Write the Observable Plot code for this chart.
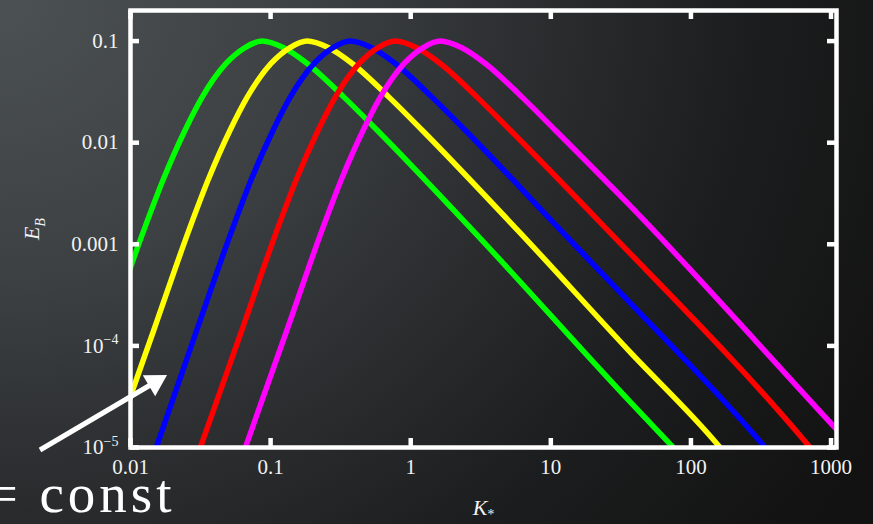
<!DOCTYPE html>
<html><head><meta charset="utf-8">
<script src="https://cdn.jsdelivr.net/npm/d3@7"></script>
<script src="https://cdn.jsdelivr.net/npm/@observablehq/plot@0.6"></script>
<style>
html,body{margin:0;padding:0;width:873px;height:524px;overflow:hidden;}
body{background: radial-gradient(ellipse 1000px 900px at 0% 0%, #4c5154 0%, #3d4144 30%, #2a2c2e 55%, #1c1d1e 75%, #121212 100%);}
#chart{position:relative;width:873px;height:524px;}
#chart svg text{font-family:"Liberation Serif","Times New Roman",serif;}
</style></head><body><div id="chart"></div>
<script>
// ---- data (K_*, E_B) ----
const kGreen   = [0.00702, 0.01248, 0.01707, 0.0245, 0.0324, 0.04809, 0.0657, 0.0870, 0.1229, 0.1823, 0.3350, 0.5764, 2.750, 36.98, 84.1];
const eGreen   = [1.451e-4, 1.387e-3, 4.29e-3, 0.01326, 0.02793, 0.0602, 0.0864, 0.1, 0.0864, 0.0602, 0.02793, 0.01326, 1.387e-3, 2.793e-5, 8.44e-6];
const kYellow  = [0.00841, 0.01472, 0.02617, 0.03578, 0.05136, 0.06795, 0.1008, 0.1378, 0.1823, 0.2575, 0.3821, 0.7022, 1.208, 5.766, 36.98, 149.6, 176.4];
const eYellow  = [1.624e-5, 1.451e-4, 1.387e-3, 4.29e-3, 0.01326, 0.02793, 0.0602, 0.0864, 0.1, 0.0864, 0.0602, 0.02793, 0.01326, 1.387e-3, 8.636e-5, 1.132e-5, 8.64e-6];
const kBlue    = [0.01472, 0.02985, 0.05309, 0.07254, 0.1042, 0.1378, 0.2045, 0.2795, 0.3698, 0.5223, 0.7751, 1.424, 2.451, 11.69, 31.35, 313.5, 369.8];
const eBlue    = [8.64e-6, 1.451e-4, 1.387e-3, 4.29e-3, 0.01326, 0.02793, 0.0602, 0.0864, 0.1, 0.0864, 0.0602, 0.02793, 0.01326, 1.387e-3, 3.346e-4, 1.132e-5, 8.64e-6];
const kRed     = [0.03035, 0.06258, 0.1113, 0.1521, 0.2184, 0.2888, 0.4287, 0.5858, 0.7751, 1.095, 1.624, 2.985, 5.139, 25.33, 657.5, 775];
const eRed     = [8.64e-6, 1.451e-4, 1.387e-3, 4.29e-3, 0.01326, 0.02793, 0.0602, 0.0864, 0.1, 0.0864, 0.0602, 0.02793, 0.01326, 1.387e-3, 1.132e-5, 8.64e-6];
const kMagenta = [0.06361, 0.1312, 0.2332, 0.3189, 0.4578, 0.6056, 0.8987, 1.228, 1.624, 2.295, 3.405, 6.259, 10.77, 35.19, 1042, 1269];
const eMagenta = [8.64e-6, 1.451e-4, 1.387e-3, 4.29e-3, 0.01326, 0.02793, 0.0602, 0.0864, 0.1, 0.0864, 0.0602, 0.02793, 0.01326, 2.552e-3, 1.624e-5, 1.211e-5];

const seriesNames  = ["green", "yellow", "blue", "red", "magenta"];
const seriesColors = ["#00ff00", "#ffff00", "#0000ff", "#ff0000", "#ff00ff"];

const xTicks = [0.01, 0.1, 1, 10, 100, 1000];
const xTickLabels = ["0.01", "0.1", "1", "10", "100", "1000"];
const yTicks = [1e-5, 1e-4, 1e-3, 0.01, 0.1];
const yTickLabels = ["10^\u22125", "10^\u22124", "0.001", "0.01", "0.1"];

const xLabel = "K_*";
const yLabel = "E_B";
const noteText = "= const";
// annotation arrow (tail, head) in data units
const arrowTail = [0.00226, 9.45e-6];
const arrowHead = [0.01496, 4.39e-5];

// ---- build table ----
const ks = [kGreen, kYellow, kBlue, kRed, kMagenta];
const es = [eGreen, eYellow, eBlue, eRed, eMagenta];
const rows = seriesNames.flatMap((s, i) => ks[i].map((k, j) => ({series: s, k, e: es[i][j]})));

const W = 873, H = 524, mL = 130, mR = 37, mT = 10, mB = 77;
const iW = W - mL - mR, iH = H - mT - mB;
const serif = "Liberation Serif";
const tickLen = 9;

const marks = [];
seriesNames.forEach((s, i) => {
  marks.push(Plot.line(rows.filter(r => r.series === s), {
    x: "k", y: "e", stroke: seriesColors[i], strokeWidth: 5.5,
    curve: "monotone-x", clip: true
  }));
});
marks.push(
  Plot.frame({stroke: "white", strokeWidth: 4.5}),
  Plot.tickX(xTicks, {x: d => d, stroke: "white", strokeWidth: 4.5, insetTop: iH - tickLen}),
  Plot.tickX(xTicks, {x: d => d, stroke: "white", strokeWidth: 4.5, insetBottom: iH - tickLen}),
  Plot.tickY(yTicks, {y: d => d, stroke: "white", strokeWidth: 4.5, insetRight: iW - tickLen}),
  Plot.tickY(yTicks, {y: d => d, stroke: "white", strokeWidth: 4.5, insetLeft: iW - tickLen}),
  Plot.axisX({ticks: xTicks, tickSize: 0, tickPadding: 12, label: null,
    tickFormat: d => xTickLabels[xTicks.indexOf(d)], fontSize: 21, fontFamily: serif, fill: "#f2f2f2"}),
  Plot.axisY({ticks: yTicks, tickSize: 0, tickPadding: 12, label: null,
    tickFormat: d => yTickLabels[yTicks.indexOf(d)], fontSize: 21, fontFamily: serif, fill: "#f2f2f2"}),
  Plot.text([yLabel], {frameAnchor: "left", dx: -99, dy: 0, rotate: -90, text: d => d,
    textAnchor: "middle", lineAnchor: "middle",
    fontSize: 22, fontStyle: "italic", fontFamily: serif, fill: "#f2f2f2"}),
  Plot.text([xLabel], {frameAnchor: "bottom", dx: 0, dy: 60, text: d => d,
    textAnchor: "middle", lineAnchor: "middle",
    fontSize: 22, fontStyle: "italic", fontFamily: serif, fill: "#f2f2f2"}),
  Plot.link([[arrowTail, arrowHead]], {x1: d => d[0][0], y1: d => d[0][1], x2: d => d[1][0], y2: d => d[1][1],
    stroke: "white", strokeWidth: 5}),
  Plot.dot([arrowHead], {x: d => d[0], y: d => d[1], symbol: "triangle", r: 9, rotate: 59.4, fill: "white", stroke: "none"}),
  Plot.text([noteText], {frameAnchor: "bottom-left", dx: 45, dy: 47, textAnchor: "end", lineAnchor: "middle",
    text: d => d, fontSize: 55, fontFamily: serif, fill: "white"})
);

const chart = Plot.plot({
  width: W, height: H,
  marginLeft: mL, marginRight: mR, marginTop: mT, marginBottom: mB,
  style: {background: "transparent", color: "white", overflow: "visible", fontFamily: serif},
  x: {type: "log", domain: [0.01, 1094]},
  y: {type: "log", domain: [1e-5, 0.2]},
  marks
});

// rich text: ^ superscript, _ subscript
const NS = "http://www.w3.org/2000/svg";
chart.querySelectorAll("text").forEach(t => {
  t.setAttribute("font-family", serif);
  const s = t.textContent;
  if (s === noteText) { t.style.letterSpacing = "4px"; return; }
  const m = s.match(/^(.*?)([\^_])(.+)$/);
  if (!m) return;
  t.textContent = m[1];
  const ts = document.createElementNS(NS, "tspan");
  if (m[2] === "^") { ts.setAttribute("font-size", "0.67em"); ts.setAttribute("dy", "-0.6em"); }
  else { ts.setAttribute("font-size", "0.62em"); ts.setAttribute("dy", m[3] === "*" ? "0.3em" : "0.45em"); ts.setAttribute("font-style", m[3] === "*" ? "normal" : "italic"); }
  ts.textContent = m[3];
  t.appendChild(ts);
});
document.getElementById("chart").appendChild(chart);
</script></body></html>
